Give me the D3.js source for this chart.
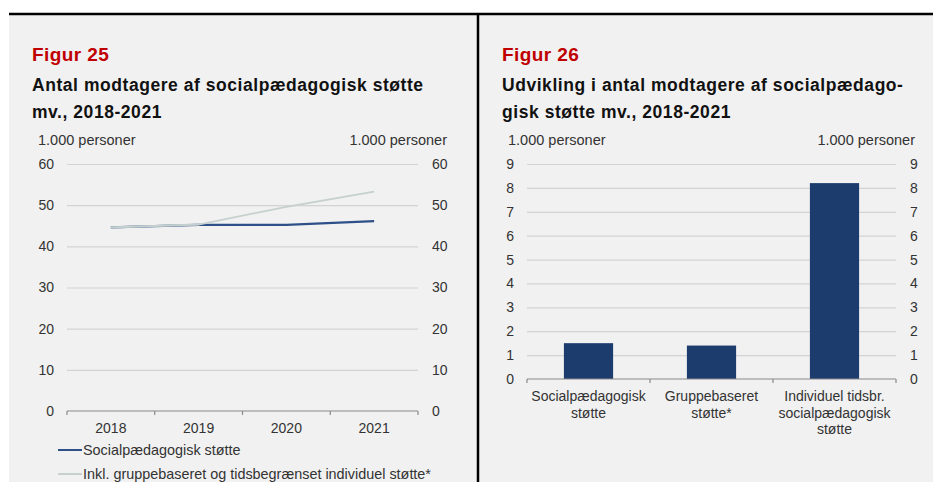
<!DOCTYPE html>
<html>
<head>
<meta charset="utf-8">
<script src="https://cdn.jsdelivr.net/npm/d3@7"></script>
<style>
  body { margin: 0; background: #fff; }
  svg { display: block; font-family: "Liberation Sans", Arial, sans-serif; }
</style>
</head>
<body>
<script>
// data for figur 25 (line chart)
let years = ['2018', '2019', '2020', '2021'];
let socialValues = [44.6, 45.2, 45.2, 46.1];
let inklValues = [44.6, 45.3, 49.6, 53.3];
let lineTicks = [0, 10, 20, 30, 40, 50, 60];
let lineLegend = ['Socialpædagogisk støtte', 'Inkl. gruppebaseret og tidsbegrænset individuel støtte*'];

// data for figur 26 (bar chart)
let barCategories = [
  ['Socialpædagogisk', 'støtte'],
  ['Gruppebaseret', 'støtte*'],
  ['Individuel tidsbr.', 'socialpædagogisk', 'støtte']
];
let barValues = [1.5, 1.4, 8.2];
let barTicks = [0, 1, 2, 3, 4, 5, 6, 7, 8, 9];

let width = 933;
let height = 482;
let darkBlue = '#1d3c6e';
let lineBlue = '#2d5088';
let lightLine = '#c5d0cf';
let gridColor = '#d3d3d3';
let textColor = '#333';

let svg = d3.select('body').append('svg')
  .attr('width', width)
  .attr('height', height);

svg.append('rect').attr('x', 9).attr('y', 13).attr('width', width - 9).attr('height', height - 13).attr('fill', '#f1f1f1');
svg.append('line').attr('x1', 9).attr('x2', width).attr('y1', 14).attr('y2', 14).attr('stroke', '#000').attr('stroke-width', 2.5);
svg.append('line').attr('x1', 478).attr('x2', 478).attr('y1', 14).attr('y2', height).attr('stroke', '#000').attr('stroke-width', 2.5);

let header = (x, fig, lines) => {
  svg.append('text').attr('x', x).attr('y', 61).text(fig)
    .attr('fill', '#c00000').attr('font-weight', 'bold').attr('font-size', 19).attr('letter-spacing', 0.4);
  lines.forEach((l, i) => svg.append('text').attr('x', x).attr('y', 91 + i * 27).text(l)
    .attr('fill', '#111').attr('font-weight', 'bold').attr('font-size', 17.5).attr('letter-spacing', 0.55));
}

let unitLabels = (xl, xr) => {
  svg.append('text').attr('x', xl).attr('y', 145).text('1.000 personer')
    .attr('font-size', 14.5).attr('fill', textColor);
  svg.append('text').attr('x', xr).attr('y', 145).text('1.000 personer')
    .attr('font-size', 14.5).attr('fill', textColor).attr('text-anchor', 'end');
}

let drawYAxes = (y, ticks, x0, x1) => {
  let left = svg.append('g').attr('transform', `translate(${x0},0)`)
    .call(d3.axisLeft(y).tickValues(ticks).tickSize(-(x1 - x0)).tickPadding(13));
  let right = svg.append('g').attr('transform', `translate(${x1},0)`)
    .call(d3.axisRight(y).tickValues(ticks).tickSize(0).tickPadding(14));
  [left, right].forEach(g => {
    g.select('.domain').remove();
    g.selectAll('text').attr('font-size', 14).attr('fill', textColor).attr('font-family', 'Liberation Sans, Arial, sans-serif');
    g.selectAll('line').attr('stroke', gridColor).attr('stroke-width', 1.2);
  });
  left.selectAll('.tick').filter(d => d === 0).select('line').remove();
}

let drawBaseAxis = (x0, x1, y0, boundaries) => {
  let g = svg.append('g');
  g.append('line').attr('x1', x0).attr('x2', x1).attr('y1', y0).attr('y2', y0)
    .attr('stroke', '#8a8a8a').attr('stroke-width', 1.2);
  g.selectAll('.btick').data(boundaries).enter().append('line')
    .attr('x1', d => d).attr('x2', d => d).attr('y1', y0).attr('y2', y0 + 4)
    .attr('stroke', '#8a8a8a').attr('stroke-width', 1.2);
}

// ---------- Figur 25 ----------
header(32, 'Figur 25', ['Antal modtagere af socialpædagogisk støtte', 'mv., 2018-2021']);
unitLabels(38, 447);

let lx0 = 67, lx1 = 418;
let ly = d3.scaleLinear().domain([0, 60]).range([411, 164]);
let lx = d3.scaleBand().domain(years).range([lx0, lx1]);
drawYAxes(ly, lineTicks, lx0, lx1);
drawBaseAxis(lx0, lx1, ly(0), lx.domain().map(d => lx(d)).concat([lx1]));

svg.append('g').selectAll('text').data(years).enter().append('text')
  .attr('x', d => lx(d) + lx.bandwidth() / 2).attr('y', 433)
  .attr('text-anchor', 'middle').attr('font-size', 14).attr('fill', textColor).text(d => d);

let lineGen = d3.line().x((d, i) => lx(years[i]) + lx.bandwidth() / 2).y(d => ly(d));
svg.append('path').datum(socialValues).attr('d', lineGen)
  .attr('fill', 'none').attr('stroke', lineBlue).attr('stroke-width', 2.2);
svg.append('path').datum(inklValues.slice(0, 2)).attr('d', lineGen)
  .attr('fill', 'none').attr('stroke', '#aebfc5').attr('stroke-width', 2);
svg.append('path').datum(inklValues).attr('d', lineGen)
  .attr('fill', 'none').attr('stroke', lightLine).attr('stroke-width', 1.8);

let legend = svg.append('g');
lineLegend.forEach((name, i) => {
  let yy = 450 + i * 24;
  legend.append('line').attr('x1', 58).attr('x2', 82).attr('y1', yy).attr('y2', yy)
    .attr('stroke', i === 0 ? lineBlue : lightLine).attr('stroke-width', 2);
  legend.append('text').attr('x', 83).attr('y', yy + 5).text(name)
    .attr('font-size', 14.4).attr('fill', textColor);
});

// ---------- Figur 26 ----------
header(502, 'Figur 26', ['Udvikling i antal modtagere af socialpædago-', 'gisk støtte mv., 2018-2021']);
unitLabels(508, 915);

let bx0 = 527, bx1 = 896;
let by = d3.scaleLinear().domain([0, 9]).range([379, 164]);
let bx = d3.scaleBand().domain(d3.range(barCategories.length)).range([bx0, bx1]).paddingInner(0.6).paddingOuter(0.3);
let band = d3.scaleBand().domain(d3.range(barCategories.length)).range([bx0, bx1]);
drawYAxes(by, barTicks, bx0, bx1);

svg.append('g').selectAll('rect').data(barValues).enter().append('rect')
  .attr('x', (d, i) => bx(i)).attr('width', bx.bandwidth())
  .attr('y', d => by(d)).attr('height', d => by(0) - by(d))
  .attr('fill', darkBlue);

drawBaseAxis(bx0, bx1, by(0), band.domain().map(d => band(d)).concat([bx1]));

let catLabels = svg.append('g');
barCategories.forEach((lines, i) => {
  let t = catLabels.append('text').attr('text-anchor', 'middle')
    .attr('font-size', 14).attr('fill', textColor);
  lines.forEach((l, j) => t.append('tspan')
    .attr('x', band(i) + band.bandwidth() / 2).attr('y', 401 + j * 16.5).text(l));
});
</script>
</body>
</html>
